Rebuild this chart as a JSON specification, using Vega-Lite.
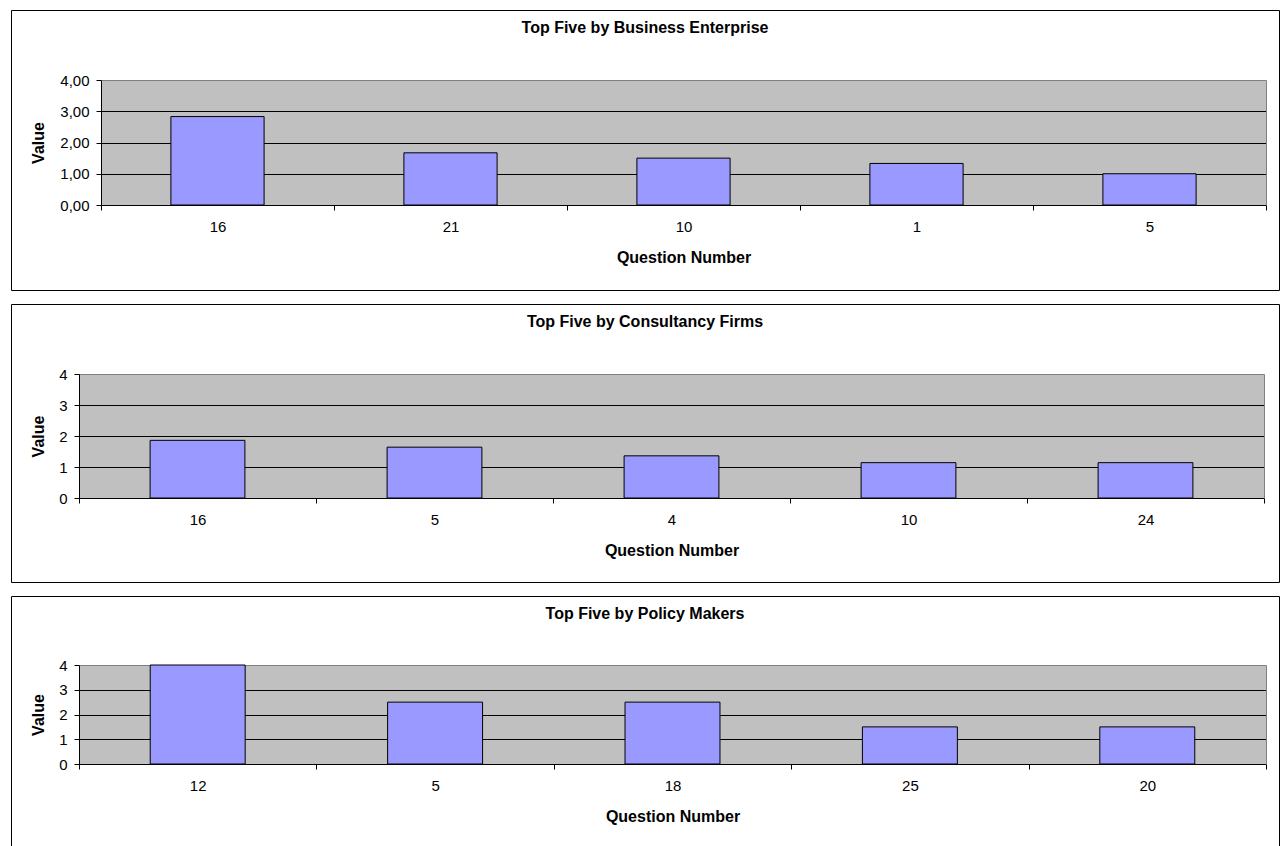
{
  "$schema": "https://vega.github.io/schema/vega-lite/v6.json",
  "padding": {"left": 10, "top": 9, "right": 0, "bottom": 0},
  "background": "white",
  "spacing": 12,
  "config": {
    "view": {"stroke": "black", "strokeWidth": 1, "fill": "white"},
    "font": "Liberation Sans",
    "axis": {
      "labelFont": "Liberation Sans", "labelFontSize": 15, "labelColor": "black",
      "titleFont": "Liberation Sans", "titleFontSize": 16, "titleFontWeight": "bold", "titleColor": "black",
      "tickColor": "black", "domainColor": "black", "tickSize": 5, "labelPadding": 7,
      "gridColor": "black", "gridOpacity": 1, "domainWidth": 1, "tickWidth": 1
    },
    "axisX": {"labelPadding": 9, "titlePadding": 15},
    "title": {"font": "Liberation Sans", "fontSize": 16, "fontWeight": "bold", "color": "black", "anchor": "middle", "baseline": "middle", "offset": -26}
  },
  "datasets": {
    "scores": [
      {"group": "Business Enterprise", "question": "16", "value": 2.83},
      {"group": "Business Enterprise", "question": "21", "value": 1.67},
      {"group": "Business Enterprise", "question": "10", "value": 1.5},
      {"group": "Business Enterprise", "question": "1", "value": 1.33},
      {"group": "Business Enterprise", "question": "5", "value": 1.0},
      {"group": "Consultancy Firms", "question": "16", "value": 1.86},
      {"group": "Consultancy Firms", "question": "5", "value": 1.64},
      {"group": "Consultancy Firms", "question": "4", "value": 1.36},
      {"group": "Consultancy Firms", "question": "10", "value": 1.14},
      {"group": "Consultancy Firms", "question": "24", "value": 1.14},
      {"group": "Policy Makers", "question": "12", "value": 4.0},
      {"group": "Policy Makers", "question": "5", "value": 2.5},
      {"group": "Policy Makers", "question": "18", "value": 2.5},
      {"group": "Policy Makers", "question": "25", "value": 1.5},
      {"group": "Policy Makers", "question": "20", "value": 1.5}
    ]
  },
  "vconcat": [
    {
      "title": "Top Five by Business Enterprise",
      "width": 1268, "height": 280,
      "data": {"name": "scores"},
      "transform": [{"filter": "datum.group === 'Business Enterprise'"}],
      "encoding": {
        "x": {"field": "question", "type": "nominal", "sort": null,
          "scale": {"range": [90, 1255], "paddingInner": 0, "paddingOuter": 0},
          "axis": {"orient": "bottom", "offset": -85, "tickBand": "extent", "labelAngle": 0, "title": "Question Number", "grid": false}}
      },
      "layer": [
        {"mark": {"type": "bar", "opacity": 0},
          "encoding": {"y": {"field": "value", "type": "quantitative",
            "scale": {"domain": [0, 4], "range": [195, 70], "nice": false},
            "axis": {"orient": "left", "offset": -90, "values": [2], "grid": true, "gridColor": "#C0C0C0", "gridWidth": 125, "labels": false, "ticks": false, "domain": false, "title": null}}}},
        {"mark": {"type": "bar", "opacity": 0},
          "encoding": {"y": {"field": "value", "type": "quantitative",
            "axis": {"orient": "right", "offset": -13, "grid": false, "labels": false, "ticks": false, "domainColor": "#808080", "title": null}}}},
        {"mark": {"type": "bar", "fill": "#9999FF", "stroke": "black", "strokeWidth": 1, "width": {"band": 0.4}},
          "encoding": {"y": {"field": "value", "type": "quantitative",
            "axis": {"orient": "left", "offset": -90, "values": [0, 1, 2, 3, 4], "grid": true,
              "gridColor": {"condition": {"test": "datum.value === 4", "value": "#808080"}, "value": "black"},
              "labelExpr": "replace(format(datum.value, '.2f'), '.', ',')",
              "title": "Value", "titleX": -63, "titleBaseline": "middle"}}}}
      ],
      "resolve": {"axis": {"y": "independent"}}
    },
    {
      "title": "Top Five by Consultancy Firms",
      "width": 1268, "height": 278,
      "data": {"name": "scores"},
      "transform": [{"filter": "datum.group === 'Consultancy Firms'"}],
      "encoding": {
        "x": {"field": "question", "type": "nominal", "sort": null,
          "scale": {"range": [68, 1253], "paddingInner": 0, "paddingOuter": 0},
          "axis": {"orient": "bottom", "offset": -84, "tickBand": "extent", "labelAngle": 0, "title": "Question Number", "grid": false}}
      },
      "layer": [
        {"mark": {"type": "bar", "opacity": 0},
          "encoding": {"y": {"field": "value", "type": "quantitative",
            "scale": {"domain": [0, 4], "range": [194, 70], "nice": false},
            "axis": {"orient": "left", "offset": -68, "values": [2], "grid": true, "gridColor": "#C0C0C0", "gridWidth": 124, "labels": false, "ticks": false, "domain": false, "title": null}}}},
        {"mark": {"type": "bar", "opacity": 0},
          "encoding": {"y": {"field": "value", "type": "quantitative",
            "axis": {"orient": "right", "offset": -15, "grid": false, "labels": false, "ticks": false, "domainColor": "#808080", "title": null}}}},
        {"mark": {"type": "bar", "fill": "#9999FF", "stroke": "black", "strokeWidth": 1, "width": {"band": 0.4}},
          "encoding": {"y": {"field": "value", "type": "quantitative",
            "axis": {"orient": "left", "offset": -68, "values": [0, 1, 2, 3, 4], "grid": true,
              "gridColor": {"condition": {"test": "datum.value === 4", "value": "#808080"}, "value": "black"},
              "format": "d",
              "title": "Value", "titleX": -41, "titleBaseline": "middle"}}}}
      ],
      "resolve": {"axis": {"y": "independent"}}
    },
    {
      "title": "Top Five by Policy Makers",
      "width": 1268, "height": 253,
      "data": {"name": "scores"},
      "transform": [{"filter": "datum.group === 'Policy Makers'"}],
      "encoding": {
        "x": {"field": "question", "type": "nominal", "sort": null,
          "scale": {"range": [68, 1255], "paddingInner": 0, "paddingOuter": 0},
          "axis": {"orient": "bottom", "offset": -85, "tickBand": "extent", "labelAngle": 0, "title": "Question Number", "grid": false}}
      },
      "layer": [
        {"mark": {"type": "bar", "opacity": 0},
          "encoding": {"y": {"field": "value", "type": "quantitative",
            "scale": {"domain": [0, 4], "range": [168, 69], "nice": false},
            "axis": {"orient": "left", "offset": -68, "values": [2], "grid": true, "gridColor": "#C0C0C0", "gridWidth": 99, "labels": false, "ticks": false, "domain": false, "title": null}}}},
        {"mark": {"type": "bar", "opacity": 0},
          "encoding": {"y": {"field": "value", "type": "quantitative",
            "axis": {"orient": "right", "offset": -13, "grid": false, "labels": false, "ticks": false, "domainColor": "#808080", "title": null}}}},
        {"mark": {"type": "bar", "fill": "#9999FF", "stroke": "black", "strokeWidth": 1, "width": {"band": 0.4}},
          "encoding": {"y": {"field": "value", "type": "quantitative",
            "axis": {"orient": "left", "offset": -68, "values": [0, 1, 2, 3, 4], "grid": true,
              "gridColor": {"condition": {"test": "datum.value === 4", "value": "#808080"}, "value": "black"},
              "format": "d",
              "title": "Value", "titleX": -41, "titleBaseline": "middle"}}}}
      ],
      "resolve": {"axis": {"y": "independent"}}
    }
  ]
}
